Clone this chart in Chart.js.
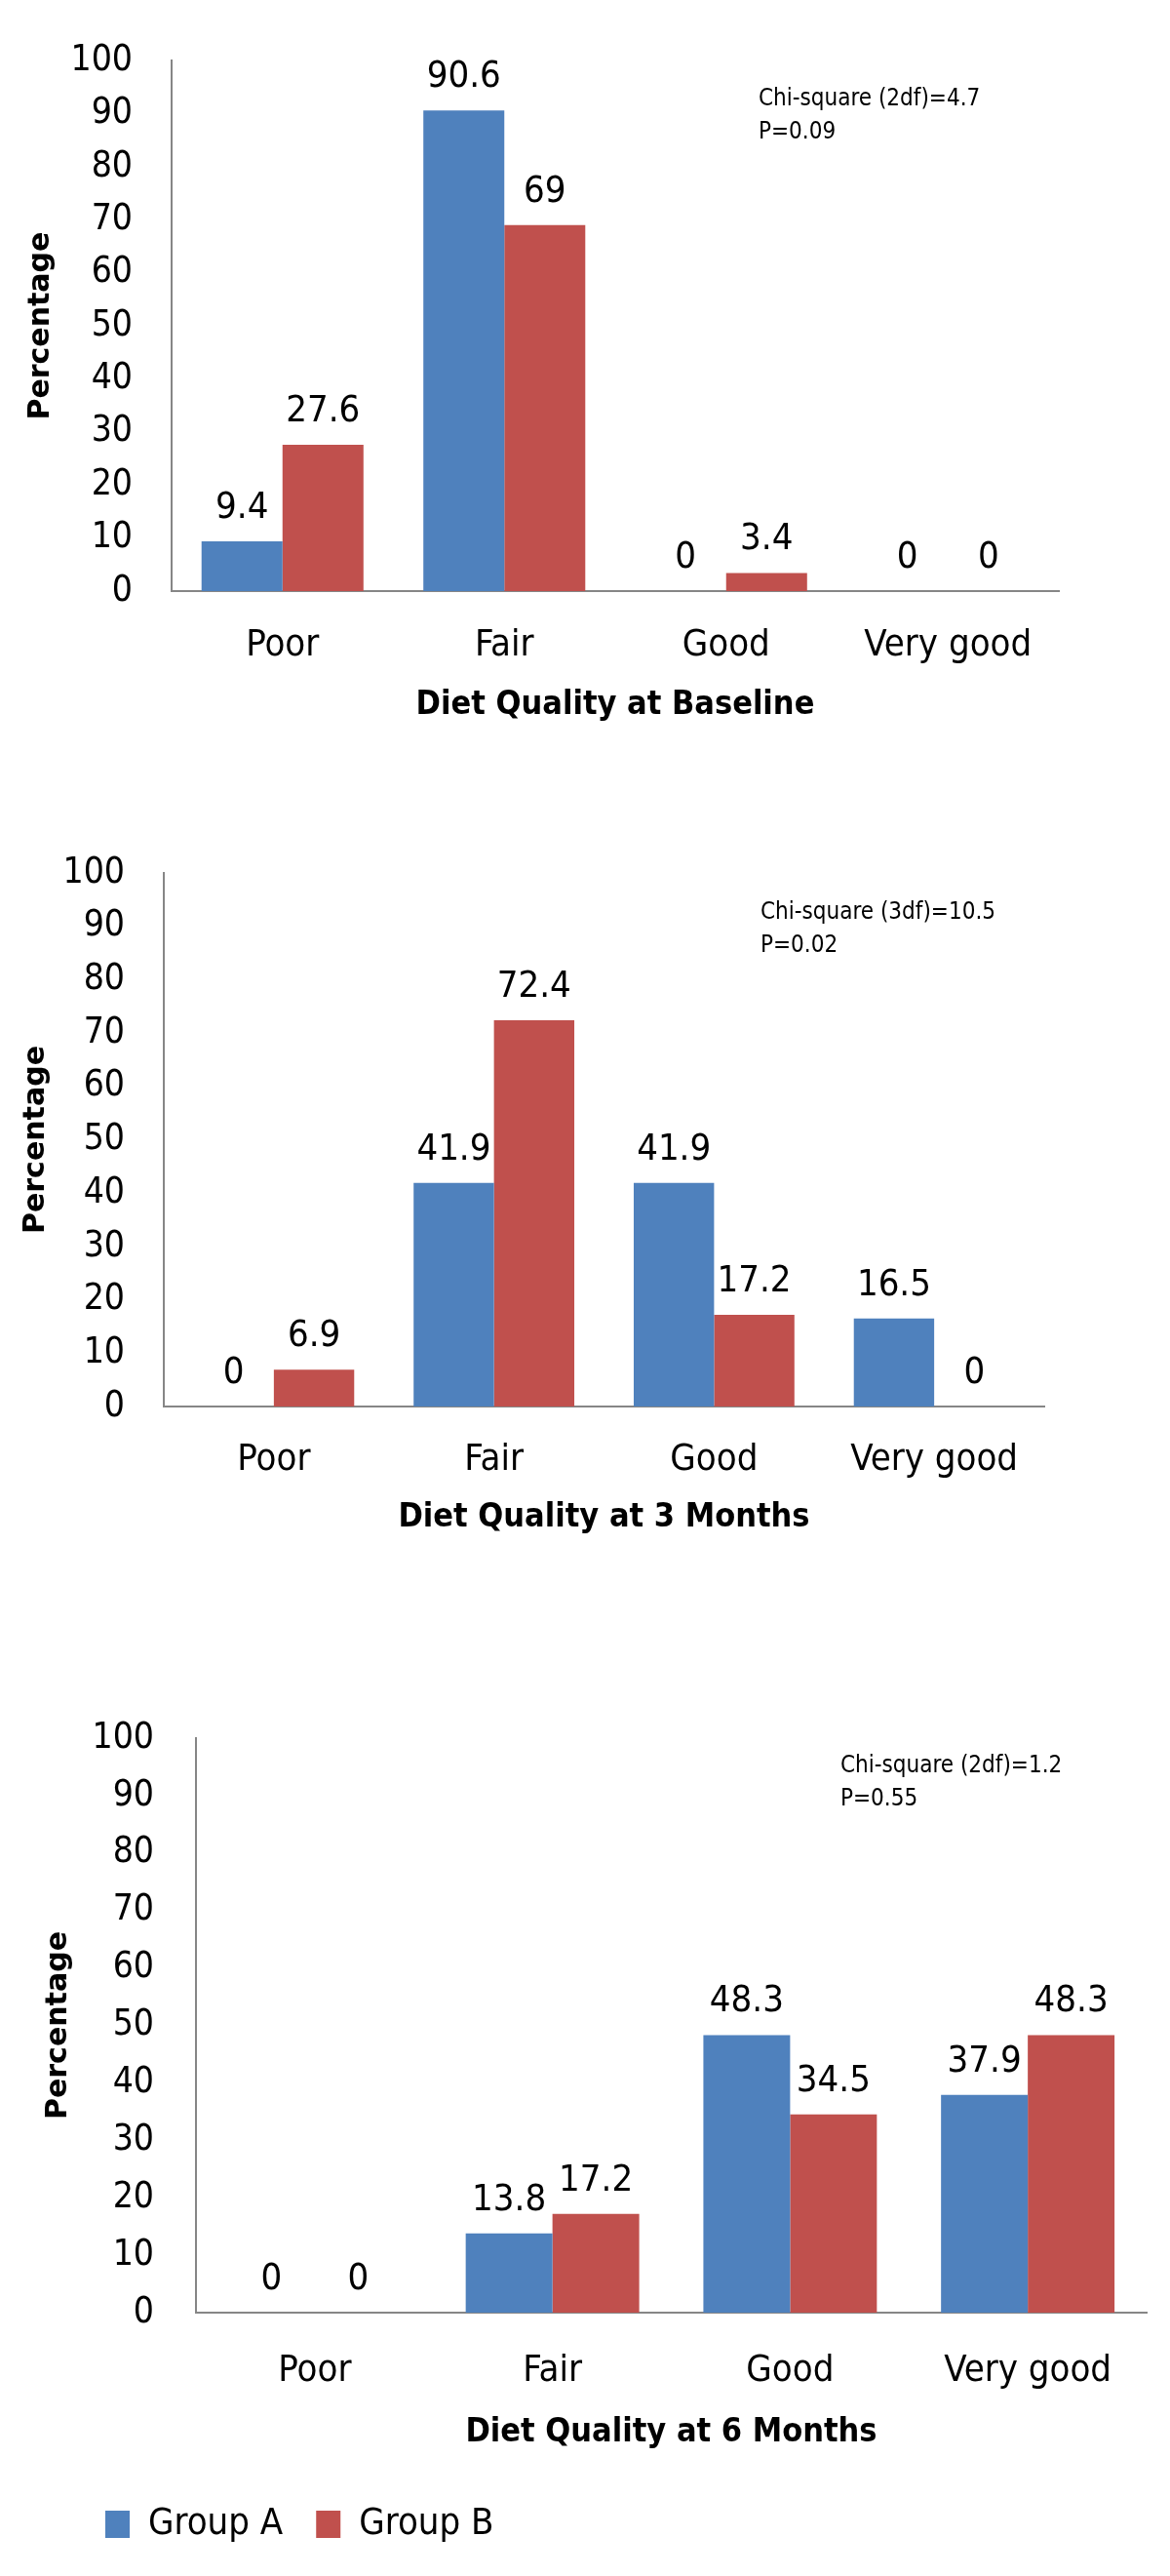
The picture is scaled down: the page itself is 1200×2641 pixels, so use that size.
<!DOCTYPE html>
<html>
<head>
<meta charset="utf-8">
<script src="https://cdn.jsdelivr.net/npm/chart.js@4"></script>
<style>
  body { margin: 0; background: #fff; }
  #wrap { position: relative; width: 1200px; height: 2641px; background: #fff; }
  canvas { position: absolute; left: 0; }
</style>
</head>
<body>
<div id="wrap">
  <canvas id="c1" width="1200" height="780" style="top:0px"></canvas>
  <canvas id="c2" width="1200" height="820" style="top:800px"></canvas>
  <canvas id="c3" width="1200" height="941" style="top:1700px"></canvas>
</div>
<script>
// data
const categories = ['Poor', 'Fair', 'Good', 'Very good'];
const seriesNames = ['Group A', 'Group B'];
const baselineA = [9.4, 90.6, 0, 0];
const baselineB = [27.6, 69, 3.4, 0];
const month3A = [0, 41.9, 41.9, 16.5];
const month3B = [6.9, 72.4, 17.2, 0];
const month6A = [0, 13.8, 48.3, 37.9];
const month6B = [0, 17.2, 34.5, 48.3];
const yTicks = [0, 10, 20, 30, 40, 50, 60, 70, 80, 90, 100];
const panelTitles = ['Diet Quality at Baseline', 'Diet Quality at 3 Months', 'Diet Quality at 6 Months'];
const chiNotes = [
  ['Chi-square (2df)=4.7', 'P=0.09'],
  ['Chi-square (3df)=10.5', 'P=0.02'],
  ['Chi-square (2df)=1.2', 'P=0.55']
];

const FONT = '"Liberation Sans Narrow", "DejaVu Sans Condensed", "Arial Narrow", sans-serif';
const BLUE = '#4F81BD';
const RED = '#C0504D';
const AXIS = '#868686';

Chart.defaults.color = '#000';
Chart.defaults.font.family = FONT;

// numbers above each bar
const valueLabels = {
  id: 'valueLabels',
  afterDatasetsDraw(chart) {
    const ctx = chart.ctx;
    ctx.save();
    ctx.font = '38px ' + FONT;
    ctx.fillStyle = '#000';
    ctx.textAlign = 'center';
    ctx.textBaseline = 'middle';
    chart.data.datasets.forEach((ds, i) => {
      chart.getDatasetMeta(i).data.forEach((bar, j) => {
        ctx.fillText(String(ds.data[j]), bar.x, bar.y - 34);
      });
    });
    ctx.restore();
  }
};

// chi-square note in the upper right
const statNote = {
  id: 'statNote',
  afterDraw(chart, args, opts) {
    if (!opts.lines) return;
    const a = chart.chartArea;
    const ctx = chart.ctx;
    ctx.save();
    ctx.font = '24px ' + FONT;
    ctx.fillStyle = '#000';
    ctx.textAlign = 'left';
    ctx.textBaseline = 'middle';
    opts.lines.forEach((t, k) => ctx.fillText(t, a.left + opts.dx, a.top + opts.dy + k * 34));
    ctx.restore();
  }
};

function makePanel(id, dataA, dataB, title, note, lay) {
  new Chart(document.getElementById(id), {
    type: 'bar',
    data: {
      labels: categories,
      datasets: [
        { label: seriesNames[0], data: dataA, backgroundColor: BLUE, borderWidth: 0 },
        { label: seriesNames[1], data: dataB, backgroundColor: RED, borderWidth: 0 }
      ]
    },
    options: {
      responsive: false,
      animation: false,
      devicePixelRatio: 1,
      categoryPercentage: 0.73,
      barPercentage: 1.0,
      layout: { padding: lay.pad },
      plugins: {
        legend: {
          display: lay.legend,
          position: 'bottom',
          align: 'start',
          labels: {
            boxWidth: 25,
            boxHeight: 28,
            padding: 34,
            font: { size: 38, family: FONT },
            color: '#000'
          }
        },
        tooltip: { enabled: false },
        statNote: { lines: note, dx: lay.noteX, dy: lay.noteY }
      },
      scales: {
        x: {
          grid: { display: false, drawTicks: false },
          border: { display: true, color: AXIS, width: 2 },
          ticks: { font: { size: 38 }, padding: lay.xTickPad, color: '#000' },
          title: {
            display: true,
            text: title,
            font: { size: 34, weight: 'bold' },
            padding: { top: 0, bottom: lay.xTitlePad },
            color: '#000'
          },
          afterFit(s) { s.height = lay.xHeight; }
        },
        y: {
          min: 0,
          max: 100,
          grid: { display: false, drawTicks: false },
          border: { display: true, color: AXIS, width: 2 },
          ticks: { font: { size: 37 }, padding: lay.yTickPad, color: '#000' },
          afterBuildTicks(s) { s.ticks = yTicks.map(v => ({ value: v })); },
          title: {
            display: true,
            text: 'Percentage',
            font: { size: 30, weight: 'bold', family: '"DejaVu Sans", Verdana, sans-serif' },
            padding: { top: lay.yTitlePad, bottom: 0 },
            color: '#000'
          },
          afterFit(s) { s.width = lay.yWidth; }
        }
      }
    },
    plugins: [valueLabels, statNote]
  });
}

makePanel('c1', baselineA, baselineB, panelTitles[0], chiNotes[0], {
  pad: { top: 54, left: 0, right: 114, bottom: 36.6 },
  yWidth: 176, yTitlePad: 24, yTickPad: 40,
  xHeight: 137.4, xTickPad: 33, xTitlePad: 0,
  noteX: 602, noteY: 40, legend: false
});

makePanel('c2', month3A, month3B, panelTitles[1], chiNotes[1], {
  pad: { top: 95, left: 0, right: 129, bottom: 43.6 },
  yWidth: 168, yTitlePad: 19, yTickPad: 40,
  xHeight: 134.4, xTickPad: 32, xTitlePad: 0,
  noteX: 612, noteY: 41, legend: false
});

makePanel('c3', month6A, month6B, panelTitles[2], chiNotes[2], {
  pad: { top: 82, left: 74, right: 24, bottom: 24 },
  yWidth: 127, yTitlePad: -32, yTickPad: 43,
  xHeight: 164, xTickPad: 37, xTitlePad: 20.6,
  noteX: 661, noteY: 29, legend: true
});
</script>
</body>
</html>
